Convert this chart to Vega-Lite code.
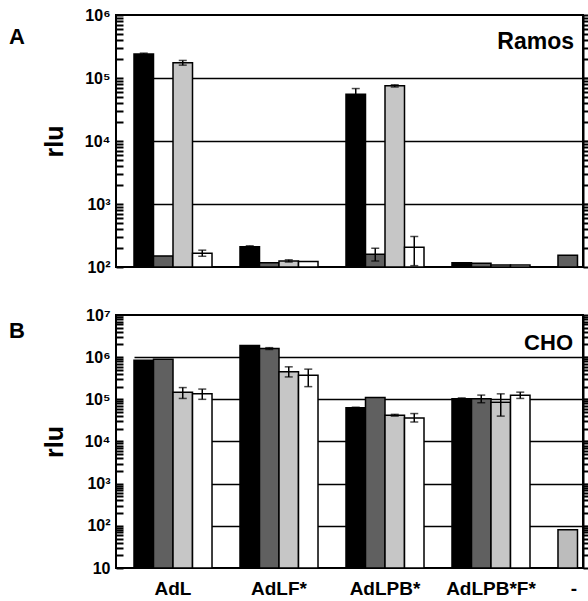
{
  "$schema": "https://vega.github.io/schema/vega-lite/v6.json",
  "padding": {"left": 8, "top": 6, "right": 0, "bottom": 0},
  "spacing": 48,
  "bounds": "flush",
  "config": {
    "font": "Liberation Sans",
    "view": {"stroke": "black", "strokeWidth": 2},
    "axis": {"domainColor": "black", "domainWidth": 2, "tickColor": "black", "labelColor": "black", "titleColor": "black", "labelFont": "Liberation Sans", "titleFont": "Liberation Sans"}
  },
  "datasets": {
    "ramos": [
      {"group": "AdL", "slot": 1, "pattern": "solid", "value": 240000, "lo": 232000, "hi": 248000},
      {"group": "AdL", "slot": 2, "pattern": "hatch", "value": 150, "lo": null, "hi": null},
      {"group": "AdL", "slot": 3, "pattern": "dots", "value": 175000, "lo": 160000, "hi": 190000},
      {"group": "AdL", "slot": 4, "pattern": "open", "value": 165, "lo": 148, "hi": 185},
      {"group": "AdLF*", "slot": 1, "pattern": "solid", "value": 210, "lo": 203, "hi": 217},
      {"group": "AdLF*", "slot": 2, "pattern": "hatch", "value": 117, "lo": null, "hi": null},
      {"group": "AdLF*", "slot": 3, "pattern": "dots", "value": 125, "lo": 120, "hi": 130},
      {"group": "AdLF*", "slot": 4, "pattern": "open", "value": 122, "lo": null, "hi": null},
      {"group": "AdLPB*", "slot": 1, "pattern": "solid", "value": 55000, "lo": 42000, "hi": 68000},
      {"group": "AdLPB*", "slot": 2, "pattern": "hatch", "value": 160, "lo": 125, "hi": 198},
      {"group": "AdLPB*", "slot": 3, "pattern": "dots", "value": 75000, "lo": 72000, "hi": 78000},
      {"group": "AdLPB*", "slot": 4, "pattern": "open", "value": 205, "lo": 105, "hi": 305},
      {"group": "AdLPB*F*", "slot": 1, "pattern": "solid", "value": 117, "lo": null, "hi": null},
      {"group": "AdLPB*F*", "slot": 2, "pattern": "hatch", "value": 115, "lo": null, "hi": null},
      {"group": "AdLPB*F*", "slot": 3, "pattern": "dots", "value": 108, "lo": null, "hi": null},
      {"group": "AdLPB*F*", "slot": 4, "pattern": "open", "value": 108, "lo": null, "hi": null},
      {"group": "-", "slot": 1, "pattern": "hatch", "value": 153, "lo": null, "hi": null}
    ],
    "cho": [
      {"group": "AdL", "slot": 1, "pattern": "solid", "value": 840000, "lo": null, "hi": null},
      {"group": "AdL", "slot": 2, "pattern": "hatch", "value": 890000, "lo": null, "hi": null},
      {"group": "AdL", "slot": 3, "pattern": "dots", "value": 148000, "lo": 105000, "hi": 190000},
      {"group": "AdL", "slot": 4, "pattern": "open", "value": 135000, "lo": 100000, "hi": 175000},
      {"group": "AdLF*", "slot": 1, "pattern": "solid", "value": 1900000, "lo": null, "hi": null},
      {"group": "AdLF*", "slot": 2, "pattern": "hatch", "value": 1600000, "lo": 1520000, "hi": 1680000},
      {"group": "AdLF*", "slot": 3, "pattern": "dots", "value": 450000, "lo": 340000, "hi": 590000},
      {"group": "AdLF*", "slot": 4, "pattern": "open", "value": 370000, "lo": 200000, "hi": 520000},
      {"group": "AdLPB*", "slot": 1, "pattern": "solid", "value": 63000, "lo": 61000, "hi": 65000},
      {"group": "AdLPB*", "slot": 2, "pattern": "hatch", "value": 110000, "lo": null, "hi": null},
      {"group": "AdLPB*", "slot": 3, "pattern": "dots", "value": 42000, "lo": 40000, "hi": 44000},
      {"group": "AdLPB*", "slot": 4, "pattern": "open", "value": 36000, "lo": 29000, "hi": 46000},
      {"group": "AdLPB*F*", "slot": 1, "pattern": "solid", "value": 103000, "lo": 98000, "hi": 108000},
      {"group": "AdLPB*F*", "slot": 2, "pattern": "hatch", "value": 103000, "lo": 83000, "hi": 126000},
      {"group": "AdLPB*F*", "slot": 3, "pattern": "dots", "value": 85000, "lo": 40000, "hi": 135000},
      {"group": "AdLPB*F*", "slot": 4, "pattern": "open", "value": 125000, "lo": 105000, "hi": 148000},
      {"group": "-", "slot": 1, "pattern": "cross", "value": 81, "lo": null, "hi": null}
    ]
  },
  "vconcat": [
    {
      "width": 467,
      "height": 252,
      "title": {"text": "A", "anchor": "start", "frame": "group", "orient": "top", "offset": 0, "dx": -107, "dy": 59, "baseline": "alphabetic", "fontSize": 22, "fontWeight": "bold", "font": "Liberation Sans"},
      "data": {"name": "ramos"},
      "encoding": {
        "x": {"field": "group", "type": "nominal", "sort": null, "scale": {"domain": ["AdL", "AdLF*", "AdLPB*", "AdLPB*F*", "-"], "range": [18, 520], "paddingInner": 0.264, "paddingOuter": 0}, "axis": null},
        "xOffset": {"field": "slot", "type": "nominal", "scale": {"domain": [1, 2, 3, 4], "paddingInner": 0, "paddingOuter": 0}}
      },
      "layer": [
        {
          "mark": {"type": "bar", "stroke": "black", "strokeWidth": 1.5},
          "encoding": {
            "y": {"field": "value", "type": "quantitative", "scale": {"type": "log", "domain": [100, 1000000], "nice": false},
              "axis": {
                "values": [100,200,300,400,500,600,700,800,900,1000,2000,3000,4000,5000,6000,7000,8000,9000,10000,20000,30000,40000,50000,60000,70000,80000,90000,100000,200000,300000,400000,500000,600000,700000,800000,900000,1000000],
                "labelExpr": "datum.value==100?'10²':datum.value==1000?'10³':datum.value==10000?'10⁴':datum.value==100000?'10⁵':datum.value==1000000?'10⁶':''",
                "title": "rlu", "titleFontSize": 25, "titleFontWeight": "bold", "titlePadding": 17,
                "labelFontSize": 16, "labelFontWeight": "bold", "labelPadding": 6,
                "offset": -7, "domain": false, "tickSize": 7, "tickWidth": 2,
                "grid": true, "gridColor": "black", "gridWidth": 1.6,
                "gridOpacity": {"condition": {"test": "datum.value == 1000 || datum.value == 10000 || datum.value == 100000", "value": 1}, "value": 0}
              }
            },
            "y2": {"datum": 100},
            "fill": {"field": "pattern", "type": "nominal", "scale": {"domain": ["solid", "hatch", "dots", "open", "cross"], "range": ["#000000", "#606060", "#c6c6c6", "#ffffff", "#bcbcbc"]}, "legend": null}
          }
        },
        {
          "transform": [{"filter": "isValid(datum.hi)"}],
          "mark": {"type": "rule", "color": "black", "strokeWidth": 1.5},
          "encoding": {
            "y": {"field": "lo", "type": "quantitative", "axis": {"orient": "right", "title": null, "labels": false, "grid": false, "tickSize": 6, "tickWidth": 2,
              "values": [100,200,300,400,500,600,700,800,900,1000,2000,3000,4000,5000,6000,7000,8000,9000,10000,20000,30000,40000,50000,60000,70000,80000,90000,100000,200000,300000,400000,500000,600000,700000,800000,900000,1000000]}},
            "y2": {"field": "hi"}
          }
        },
        {
          "transform": [{"filter": "isValid(datum.hi)"}],
          "mark": {"type": "tick", "color": "black", "thickness": 1.5, "orient": "horizontal"},
          "encoding": {"y": {"field": "hi", "type": "quantitative", "axis": null}, "size": {"value": 8}}
        },
        {
          "transform": [{"filter": "isValid(datum.hi)"}],
          "mark": {"type": "tick", "color": "black", "thickness": 1.5, "orient": "horizontal"},
          "encoding": {"y": {"field": "lo", "type": "quantitative", "axis": null}, "size": {"value": 8}}
        },
        {
          "data": {"values": [{"label": "Ramos"}]},
          "mark": {"type": "text", "align": "right", "baseline": "middle", "fontSize": 23, "fontWeight": "bold", "font": "Liberation Sans", "dx": -9, "color": "black"},
          "encoding": {"x": {"value": "width"}, "xOffset": null, "y": {"datum": 370000, "type": "quantitative", "axis": null}, "text": {"field": "label"}}
        }
      ],
      "resolve": {"axis": {"y": "independent"}}
    },
    {
      "width": 467,
      "height": 253,
      "title": {"text": "B", "anchor": "start", "frame": "group", "orient": "top", "offset": 0, "dx": -107, "dy": 53, "baseline": "alphabetic", "fontSize": 22, "fontWeight": "bold", "font": "Liberation Sans"},
      "data": {"name": "cho"},
      "encoding": {
        "x": {"field": "group", "type": "nominal", "sort": null, "scale": {"domain": ["AdL", "AdLF*", "AdLPB*", "AdLPB*F*", "-"], "range": [18, 520], "paddingInner": 0.264, "paddingOuter": 0},
          "axis": {"title": null, "domain": false, "ticks": false, "labelAngle": 0, "labelFontSize": 19, "labelFontWeight": "bold", "labelPadding": 11,
            "labelOffset": {"condition": {"test": "datum.value == '-'", "value": -23}, "value": 0}}},
        "xOffset": {"field": "slot", "type": "nominal", "scale": {"domain": [1, 2, 3, 4], "paddingInner": 0, "paddingOuter": 0}}
      },
      "layer": [
        {
          "mark": {"type": "bar", "stroke": "black", "strokeWidth": 1.5},
          "encoding": {
            "y": {"field": "value", "type": "quantitative", "scale": {"type": "log", "domain": [10, 10000000], "nice": false},
              "axis": {
                "values": [10,20,30,40,50,60,70,80,90,100,200,300,400,500,600,700,800,900,1000,2000,3000,4000,5000,6000,7000,8000,9000,10000,20000,30000,40000,50000,60000,70000,80000,90000,100000,200000,300000,400000,500000,600000,700000,800000,900000,1000000,2000000,3000000,4000000,5000000,6000000,7000000,8000000,9000000,10000000],
                "labelExpr": "datum.value==10?'10':datum.value==100?'10²':datum.value==1000?'10³':datum.value==10000?'10⁴':datum.value==100000?'10⁵':datum.value==1000000?'10⁶':datum.value==10000000?'10⁷':''",
                "title": "rlu", "titleFontSize": 25, "titleFontWeight": "bold", "titlePadding": 17,
                "labelFontSize": 16, "labelFontWeight": "bold", "labelPadding": 6,
                "offset": -7, "domain": false, "tickSize": 7, "tickWidth": 2,
                "grid": true, "gridColor": "black", "gridWidth": 1.6,
                "gridOpacity": {"condition": {"test": "datum.value == 100 || datum.value == 1000 || datum.value == 10000 || datum.value == 100000 || datum.value == 1000000", "value": 1}, "value": 0}
              }
            },
            "y2": {"datum": 10},
            "fill": {"field": "pattern", "type": "nominal", "scale": {"domain": ["solid", "hatch", "dots", "open", "cross"], "range": ["#000000", "#606060", "#c6c6c6", "#ffffff", "#bcbcbc"]}, "legend": null}
          }
        },
        {
          "transform": [{"filter": "isValid(datum.hi)"}],
          "mark": {"type": "rule", "color": "black", "strokeWidth": 1.5},
          "encoding": {
            "y": {"field": "lo", "type": "quantitative", "axis": {"orient": "right", "title": null, "labels": false, "grid": false, "tickSize": 6, "tickWidth": 2,
              "values": [10,20,30,40,50,60,70,80,90,100,200,300,400,500,600,700,800,900,1000,2000,3000,4000,5000,6000,7000,8000,9000,10000,20000,30000,40000,50000,60000,70000,80000,90000,100000,200000,300000,400000,500000,600000,700000,800000,900000,1000000,2000000,3000000,4000000,5000000,6000000,7000000,8000000,9000000,10000000]}},
            "y2": {"field": "hi"}
          }
        },
        {
          "transform": [{"filter": "isValid(datum.hi)"}],
          "mark": {"type": "tick", "color": "black", "thickness": 1.5, "orient": "horizontal"},
          "encoding": {"y": {"field": "hi", "type": "quantitative", "axis": null}, "size": {"value": 8}}
        },
        {
          "transform": [{"filter": "isValid(datum.hi)"}],
          "mark": {"type": "tick", "color": "black", "thickness": 1.5, "orient": "horizontal"},
          "encoding": {"y": {"field": "lo", "type": "quantitative", "axis": null}, "size": {"value": 8}}
        },
        {
          "data": {"values": [{"label": "CHO"}]},
          "mark": {"type": "text", "align": "right", "baseline": "middle", "fontSize": 22, "fontWeight": "bold", "font": "Liberation Sans", "dx": -10, "color": "black"},
          "encoding": {"x": {"value": "width"}, "xOffset": null, "y": {"datum": 2200000, "type": "quantitative", "axis": null}, "text": {"field": "label"}}
        }
      ],
      "resolve": {"axis": {"y": "independent"}}
    }
  ]
}
